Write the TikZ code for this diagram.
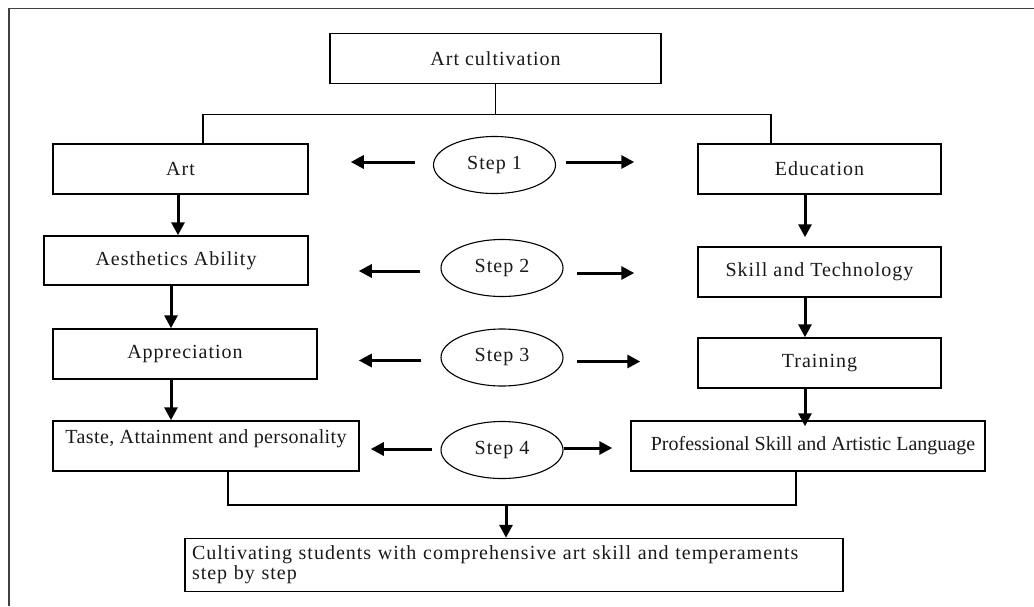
\documentclass[tikz,border=0pt]{standalone}
\usepackage{fontspec}
\setmainfont{Liberation Serif}[LetterSpace=5]
\newfontfamily\plainserif{Liberation Serif}
\usetikzlibrary{shapes.geometric,arrows.meta}

\begin{document}
\begin{tikzpicture}[x=1pt,y=-1pt,
  box/.style={draw,line width=1.5pt,minimum height=50pt,inner sep=0pt,text=black!90,font=\fontsize{20}{20}\selectfont},
  stepoval/.style={draw,ellipse,line width=1.1pt,minimum width=122pt,minimum height=57pt,inner sep=0pt,text=black!90,font=\fontsize{20}{20}\selectfont},
  arr/.style={line width=3pt,-{Triangle[length=13pt,width=13pt]}},
  link/.style={line width=1.4pt}]
\useasboundingbox (0,0) rectangle (1034,606);
% outer frame, cut off at right and bottom
\draw[line width=1.4pt,black!75] (9,606) -- (9,8.5) -- (1034,8.5);

% boxes
\node[box,minimum width=331pt] (top) at (495.5,58.5) {Art cultivation};
\node[box,minimum width=255pt] (art) at (180.5,169) {Art};
\node[box,minimum width=243pt] (edu) at (819.5,169) {Education};
\node[box,minimum width=264pt,minimum height=49pt] (aes) at (176,260.5) {Aesthetics Ability};
\node[box,minimum width=243pt] (skill) at (819.5,272) {Skill and Technology};
\node[box,minimum width=264pt] (app) at (185,354) {Appreciation};
\node[box,minimum width=243pt] (train) at (819.5,363) {Training};
\node[box,minimum width=306pt,text depth=19pt] (taste) at (206,446)
  {\plainserif\addfontfeature{LetterSpace=2}Taste, Attainment and personality};
\node[box,minimum width=354pt] (prof) at (808,446)
  {\hspace*{10pt}\plainserif Professional Skill and Artistic Language};
\node[box,minimum width=658pt,minimum height=53pt,text width=644pt,align=left,inner sep=7pt] (final) at (514,565)
  {\makebox[625pt][s]{Cultivating students with comprehensive art skill and temperaments}\\step by step};

% steps in the middle
\foreach \n/\x/\y in {1/494.5/165,2/502/268,3/502/357.5,4/502/450}
  \node[stepoval] (s\n) at (\x,\y) {Step \n};

% split from the top box
\draw[link] (top.south) -- ++(0,30) coordinate (split);
\draw[link] ([xshift=22.5pt]art.north) |- (split) -| ([xshift=-48.5pt]edu.north);

% left column
\draw[arr] ([xshift=-2.5pt]art.south) -- ([xshift=-2.5pt]art.south |- aes.north);
\draw[arr] ([xshift=-5pt]aes.south) -- ([xshift=-5pt]aes.south |- app.north);
\draw[arr] ([xshift=-14pt]app.south) -- ([xshift=-14pt]app.south |- taste.north);

% right column
\draw[arr] ([xshift=-14.5pt]edu.south) -- ([xshift=-14.5pt,yshift=9pt]edu.south |- skill.north);
\draw[arr] ([xshift=-14.5pt]skill.south) -- ([xshift=-14.5pt]skill.south |- train.north);
\draw[arr] ([xshift=-14.5pt]train.south) -- ([xshift=-14.5pt,yshift=-6pt]train.south |- prof.north);

% arrows from each step to both sides
\foreach \s/\l/\r/\a/\b/\c/\d/\ly/\ry in {s1/art/edu/18/42/10/63/3/3,
    s2/aes/skill/20/50/13/63/-3/-5,
    s3/app/train/19/41/13/57/-3/-4,
    s4/taste/prof/8/11/0/18/1/2}{
  \draw[arr,shorten <=\a pt,shorten >=\b pt] ([yshift=\ly pt]\s.west) -- ([yshift=\ly pt]\s.west -| \l.east);
  \draw[arr,shorten <=\c pt,shorten >=\d pt] ([yshift=\ry pt]\s.east) -- ([yshift=\ry pt]\s.east -| \r.west);
}

% join into the last box
\coordinate (join) at (506,505);
\draw[link] ([xshift=22pt]taste.south) |- (join) -| ([xshift=-12pt]prof.south);
\draw[arr] (join) -- (join |- final.north);
\end{tikzpicture}
\end{document}
